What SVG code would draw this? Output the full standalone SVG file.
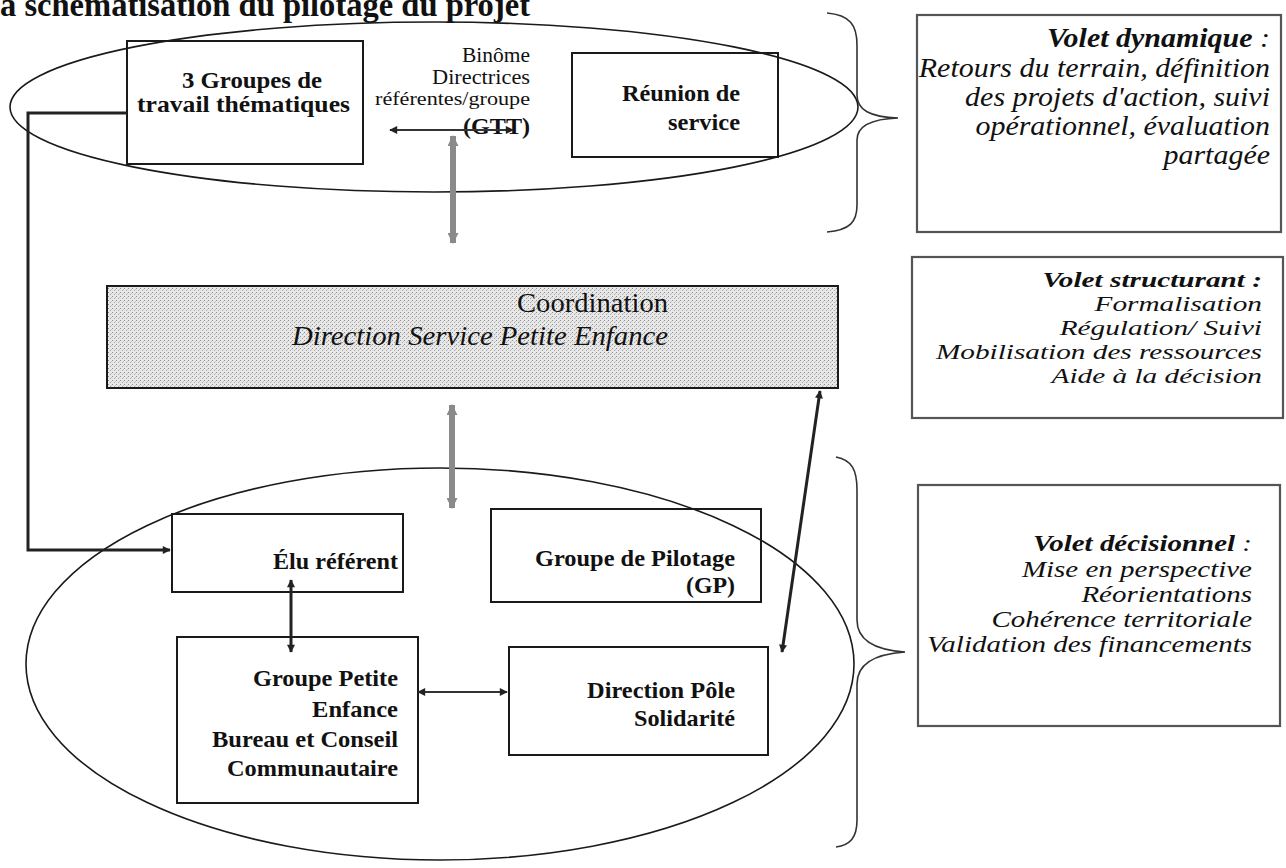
<svg xmlns="http://www.w3.org/2000/svg" width="1286" height="868" viewBox="0 0 1286 868">
<style>
text{font-family:"Liberation Serif","Times New Roman",serif;fill:#111}
.b{font-weight:bold;font-size:24px}
.e{text-anchor:end}
.r{font-size:20.5px}
.co{font-size:28px}
.it{font-style:italic}
.pt{font-style:italic;text-anchor:end}
.box{fill:#fff;stroke:#1a1a1a;stroke-width:2}
.side{fill:#fff;stroke:#555;stroke-width:2.2}
.ell{fill:none;stroke:#1a1a1a;stroke-width:1.6}
.brk{fill:none;stroke:#333;stroke-width:1.6}
.dk{fill:none;stroke:#222;stroke-width:3}
.dk2{fill:none;stroke:#333;stroke-width:2.2}
.gr{fill:none;stroke:#8a8a8a;stroke-width:6}
</style>
<defs>
<marker id="ah" viewBox="0 0 10 10" refX="9" refY="5" markerWidth="10" markerHeight="8" markerUnits="userSpaceOnUse" orient="auto-start-reverse"><path d="M0,0 L10,5 L0,10 z" fill="#222"/></marker>
<marker id="ahg" viewBox="0 0 10 10" refX="9" refY="5" markerWidth="12" markerHeight="11" markerUnits="userSpaceOnUse" orient="auto-start-reverse"><path d="M0,0 L10,5 L0,10 z" fill="#8a8a8a"/></marker>
<pattern id="stip" width="4" height="4" patternUnits="userSpaceOnUse"><rect width="4" height="4" fill="#e8e8e8"/><rect x="0" y="0" width="1" height="1" fill="#8f8f8f"/><rect x="2" y="2" width="1" height="1" fill="#a5a5a5"/><rect x="3" y="1" width="1" height="1" fill="#c4c4c4"/></pattern>
</defs>

<text id="title" x="0" y="16" font-size="33" font-weight="bold" textLength="530" lengthAdjust="spacingAndGlyphs">a schématisation du pilotage du projet</text>

<g id="n-gtt">
<rect class="box" x="127" y="41" width="236" height="123"/>
<text class="b" x="182" y="88" textLength="140" lengthAdjust="spacingAndGlyphs">3 Groupes de</text>
<text class="b" x="137" y="112" textLength="213" lengthAdjust="spacingAndGlyphs">travail thématiques</text>
</g>

<g id="n-binome">
<text class="r e" x="530" y="62" textLength="68" lengthAdjust="spacingAndGlyphs">Binôme</text>
<text class="r e" x="530" y="84" textLength="98" lengthAdjust="spacingAndGlyphs">Directrices</text>
<text class="e" x="530" y="105" font-size="19" textLength="155" lengthAdjust="spacingAndGlyphs">référentes/groupe</text>
<text class="e" x="530" y="134" font-size="23" font-weight="bold" textLength="67" lengthAdjust="spacingAndGlyphs">(GTT)</text>
</g>

<g id="n-reunion">
<rect class="box" x="572" y="53" width="206" height="104"/>
<text class="b e" x="740" y="101" textLength="118" lengthAdjust="spacingAndGlyphs">Réunion de</text>
<text class="b e" x="740" y="130" textLength="72" lengthAdjust="spacingAndGlyphs">service</text>
</g>

<g id="n-coord">
<rect x="107" y="286" width="731" height="102" fill="url(#stip)" stroke="#1a1a1a" stroke-width="2"/>
<text class="co e" x="668" y="312" textLength="151" lengthAdjust="spacingAndGlyphs">Coordination</text>
<text class="co it e" x="668" y="345" textLength="376" lengthAdjust="spacingAndGlyphs">Direction Service Petite Enfance</text>
</g>

<g id="n-elu">
<rect class="box" x="172" y="514" width="231" height="78"/>
<text class="b e" x="398" y="569" textLength="125" lengthAdjust="spacingAndGlyphs">Élu référent</text>
</g>

<g id="n-gp">
<rect class="box" x="491" y="509" width="270" height="93"/>
<text class="b e" x="735" y="566" textLength="200" lengthAdjust="spacingAndGlyphs">Groupe de Pilotage</text>
<text class="b e" x="735" y="593" textLength="49" lengthAdjust="spacingAndGlyphs">(GP)</text>
</g>

<g id="n-gpe">
<rect class="box" x="177" y="637" width="241" height="166"/>
<text class="b e" x="398" y="686" textLength="145" lengthAdjust="spacingAndGlyphs">Groupe Petite</text>
<text class="b e" x="398" y="717" textLength="86" lengthAdjust="spacingAndGlyphs">Enfance</text>
<text class="b e" x="398" y="747" textLength="186" lengthAdjust="spacingAndGlyphs">Bureau et Conseil</text>
<text class="b e" x="398" y="776" textLength="171" lengthAdjust="spacingAndGlyphs">Communautaire</text>
</g>

<g id="n-dps">
<rect class="box" x="509" y="647" width="259" height="108"/>
<text class="b e" x="735" y="698" textLength="148" lengthAdjust="spacingAndGlyphs">Direction Pôle</text>
<text class="b e" x="735" y="726" textLength="101" lengthAdjust="spacingAndGlyphs">Solidarité</text>
</g>

<g id="groups">
<ellipse class="ell" cx="434" cy="107" rx="424" ry="85"/>
<ellipse class="ell" cx="440" cy="664" rx="414" ry="196"/>
<path class="brk" d="M827,13 C850,15 857,25 857,45 L857,95 C857,110 870,117 898,118 C870,119 857,126 857,140 L857,205 C857,222 850,230 827,232"/>
<path class="brk" d="M836,457 C852,460 857,470 857,490 L857,620 C857,640 875,650 905,652 C875,654 857,664 857,684 L857,820 C857,838 850,845 836,847"/>
</g>

<g id="connectors">
<path class="dk" d="M127,113 H28 V550 H170" marker-end="url(#ah)"/>
<path class="dk2" d="M390,130 H513" marker-start="url(#ah)" marker-end="url(#ah)"/>
<path class="gr" d="M453,136 V243" marker-start="url(#ahg)" marker-end="url(#ahg)"/>
<path class="gr" d="M452,405 V508" marker-start="url(#ahg)" marker-end="url(#ahg)"/>
<path class="dk" d="M291,580 V652" marker-start="url(#ah)" marker-end="url(#ah)"/>
<path class="dk2" d="M418,692 H507" marker-start="url(#ah)" marker-end="url(#ah)"/>
<path class="dk" d="M782,652 L820,391" marker-start="url(#ah)" marker-end="url(#ah)"/>
</g>

<g id="v-dyn">
<rect class="side" x="917" y="15" width="364" height="217"/>
<g transform="translate(1270,0) scale(1.11,1)" font-size="27">
<text class="pt" x="0" y="47"><tspan font-weight="bold">Volet dynamique</tspan> :</text>
<text class="pt" x="0" y="77">Retours du terrain, définition</text>
<text class="pt" x="0" y="106">des projets d'action, suivi</text>
<text class="pt" x="0" y="135">opérationnel, évaluation</text>
<text class="pt" x="0" y="164">partagée</text>
</g>
</g>

<g id="v-struct">
<rect class="side" x="912" y="257" width="371" height="161"/>
<g transform="translate(1262,0) scale(1.33,1)" font-size="22">
<text class="pt" x="0" y="287" font-weight="bold">Volet structurant :</text>
<text class="pt" x="0" y="311">Formalisation</text>
<text class="pt" x="0" y="335">Régulation/ Suivi</text>
<text class="pt" x="0" y="359">Mobilisation des ressources</text>
<text class="pt" x="0" y="383">Aide à la décision</text>
</g>
</g>

<g id="v-dec">
<rect class="side" x="918" y="485" width="362" height="241"/>
<g transform="translate(1252,0) scale(1.26,1)" font-size="23">
<text class="pt" x="0" y="551"><tspan font-weight="bold">Volet décisionnel</tspan>  :</text>
<text class="pt" x="0" y="577">Mise en perspective</text>
<text class="pt" x="0" y="602">Réorientations</text>
<text class="pt" x="0" y="627">Cohérence territoriale</text>
<text class="pt" x="0" y="652">Validation des financements</text>
</g>
</g>
</svg>
